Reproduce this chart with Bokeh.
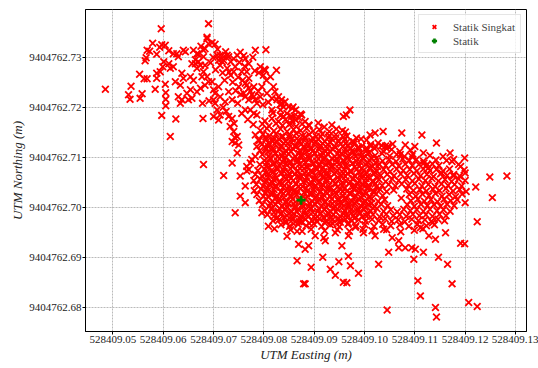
from bokeh.plotting import figure
from bokeh.models import Range1d, FixedTicker, PrintfTickFormatter
from bokeh.embed import file_html
from bokeh.resources import INLINE

FONT = "Liberation Serif"

x_ticks = [528409.05, 528409.06, 528409.07, 528409.08, 528409.09,
           528409.10, 528409.11, 528409.12, 528409.13]
y_ticks = [9404762.68, 9404762.69, 9404762.70, 9404762.71, 9404762.72, 9404762.73]
x_limits = (528409.04455, 528409.13219)
y_limits = (9404762.6753, 9404762.73952)

# "Statik" reference position
static_east = [528409.0874]
static_north = [9404762.7015]

# "Statik Singkat" readings (easting, northing)
singkat_upper = [
    (528409.0485, 9404762.7236), (528409.0596, 9404762.7357), (528409.0579, 9404762.7328), (528409.0597, 9404762.7325),
    (528409.0604, 9404762.7324), (528409.0593, 9404762.7320), (528409.0568, 9404762.7314), (528409.0573, 9404762.7312),
    (528409.0587, 9404762.7306), (528409.0566, 9404762.7299), (528409.0564, 9404762.7293), (528409.0601, 9404762.7291),
    (528409.0599, 9404762.7281), (528409.0594, 9404762.7271), (528409.0611, 9404762.7313), (528409.0620, 9404762.7307),
    (528409.0627, 9404762.7307), (528409.0640, 9404762.7314), (528409.0644, 9404762.7311), (528409.0630, 9404762.7301),
    (528409.0611, 9404762.7287), (528409.0614, 9404762.7278), (528409.0620, 9404762.7281), (528409.0553, 9404762.7266),
    (528409.0562, 9404762.7257), (528409.0568, 9404762.7257), (528409.0587, 9404762.7268), (528409.0587, 9404762.7258),
    (528409.0624, 9404762.7251), (528409.0634, 9404762.7244), (528409.0640, 9404762.7258), (528409.0637, 9404762.7268),
    (528409.0536, 9404762.7242), (528409.0531, 9404762.7225), (528409.0534, 9404762.7216), (528409.0558, 9404762.7227),
    (528409.0554, 9404762.7218), (528409.0584, 9404762.7236), (528409.0604, 9404762.7246), (528409.0605, 9404762.7229),
    (528409.0605, 9404762.7216), (528409.0605, 9404762.7203), (528409.0597, 9404762.7184), (528409.0625, 9404762.7177),
    (528409.0614, 9404762.7142), (528409.0630, 9404762.7221), (528409.0637, 9404762.7215), (528409.0634, 9404762.7208),
    (528409.0647, 9404762.7228), (528409.0657, 9404762.7218), (528409.0650, 9404762.7215), (528409.0660, 9404762.7314),
    (528409.0667, 9404762.7307), (528409.0670, 9404762.7291), (528409.0664, 9404762.7287), (528409.0674, 9404762.7284),
    (528409.0657, 9404762.7287), (528409.0670, 9404762.7306), (528409.0680, 9404762.7301), (528409.0664, 9404762.7295),
    (528409.0683, 9404762.7284), (528409.0667, 9404762.7278), (528409.0687, 9404762.7337), (528409.0690, 9404762.7327),
    (528409.0697, 9404762.7329), (528409.0703, 9404762.7326), (528409.0683, 9404762.7317), (528409.0679, 9404762.7315),
    (528409.0690, 9404762.7367), (528409.0687, 9404762.7340), (528409.0679, 9404762.7178), (528409.0678, 9404762.7208),
    (528409.0680, 9404762.7086), (528409.0654, 9404762.7261), (528409.0660, 9404762.7254), (528409.0654, 9404762.7235),
    (528409.0667, 9404762.7231), (528409.0674, 9404762.7238), (528409.0677, 9404762.7261), (528409.0680, 9404762.7271),
    (528409.0687, 9404762.7261), (528409.0690, 9404762.7251), (528409.0683, 9404762.7244), (528409.0697, 9404762.7251),
    (528409.0700, 9404762.7235), (528409.0710, 9404762.7241), (528409.0703, 9404762.7228), (528409.0713, 9404762.7221),
    (528409.0700, 9404762.7215), (528409.0703, 9404762.7208), (528409.0707, 9404762.7195), (528409.0700, 9404762.7182),
    (528409.0713, 9404762.7185), (528409.0710, 9404762.7175), (528409.0707, 9404762.7304), (528409.0713, 9404762.7304),
    (528409.0710, 9404762.7294), (528409.0717, 9404762.7291), (528409.0713, 9404762.7284), (528409.0720, 9404762.7301),
    (528409.0720, 9404762.7294), (528409.0727, 9404762.7304), (528409.0730, 9404762.7301), (528409.0734, 9404762.7291),
    (528409.0740, 9404762.7297), (528409.0747, 9404762.7304), (528409.0727, 9404762.7278), (528409.0731, 9404762.7270),
    (528409.0740, 9404762.7271), (528409.0743, 9404762.7281), (528409.0734, 9404762.7264), (528409.0756, 9404762.7271),
    (528409.0763, 9404762.7297), (528409.0770, 9404762.7287), (528409.0766, 9404762.7271), (528409.0770, 9404762.7258),
    (528409.0766, 9404762.7244), (528409.0750, 9404762.7241), (528409.0763, 9404762.7248), (528409.0770, 9404762.7238),
    (528409.0760, 9404762.7228), (528409.0773, 9404762.7232), (528409.0780, 9404762.7241), (528409.0763, 9404762.7221),
    (528409.0770, 9404762.7215), (528409.0776, 9404762.7225), (528409.0780, 9404762.7221), (528409.0783, 9404762.7215),
    (528409.0793, 9404762.7221), (528409.0796, 9404762.7241), (528409.0786, 9404762.7208), (528409.0763, 9404762.7195),
    (528409.0773, 9404762.7195), (528409.0780, 9404762.7188), (528409.0786, 9404762.7185), (528409.0723, 9404762.7211),
    (528409.0737, 9404762.7215), (528409.0730, 9404762.7231), (528409.0730, 9404762.7182), (528409.0737, 9404762.7178),
    (528409.0733, 9404762.7162), (528409.0741, 9404762.7168), (528409.0740, 9404762.7152), (528409.0742, 9404762.7140),
    (528409.0747, 9404762.7142), (528409.0743, 9404762.7129), (528409.0737, 9404762.7132), (528409.0750, 9404762.7125),
    (528409.0747, 9404762.7109), (528409.0737, 9404762.7089), (528409.0720, 9404762.7064), (528409.0753, 9404762.7063),
    (528409.0766, 9404762.7082), (528409.0770, 9404762.7076), (528409.0773, 9404762.7089), (528409.0776, 9404762.7096),
    (528409.0783, 9404762.7102), (528409.0786, 9404762.7122), (528409.0789, 9404762.7135), (528409.0783, 9404762.7145),
    (528409.0803, 9404762.7274), (528409.0793, 9404762.7281), (528409.0799, 9404762.7264), (528409.0801, 9404762.7276),
    (528409.0783, 9404762.7314), (528409.0804, 9404762.7315), (528409.0825, 9404762.7274), (528409.0806, 9404762.7228),
    (528409.0816, 9404762.7218), (528409.0826, 9404762.7215), (528409.0819, 9404762.7241), (528409.0822, 9404762.7231),
    (528409.0829, 9404762.7221), (528409.0835, 9404762.7215), (528409.0842, 9404762.7211), (528409.0836, 9404762.7208),
    (528409.0832, 9404762.7205), (528409.0839, 9404762.7201), (528409.0849, 9404762.7201), (528409.0858, 9404762.7201),
    (528409.0863, 9404762.7195), (528409.0816, 9404762.7195), (528409.0833, 9404762.7195), (528409.0839, 9404762.7182),
    (528409.0856, 9404762.7198), (528409.0863, 9404762.7175), (528409.0853, 9404762.7168), (528409.0875, 9404762.7185),
    (528409.0855, 9404762.7182), (528409.0675, 9404762.7322), (528409.0708, 9404762.7316), (528409.0724, 9404762.7311),
    (528409.0753, 9404762.7310), (528409.0760, 9404762.7303), (528409.0778, 9404762.7300), (528409.0751, 9404762.7290),
    (528409.0762, 9404762.7282), (528409.0782, 9404762.7273), (528409.0790, 9404762.7269), (528409.0749, 9404762.7260),
    (528409.0758, 9404762.7254), (528409.0718, 9404762.7269), (528409.0704, 9404762.7275), (528409.0694, 9404762.7289),
    (528409.0699, 9404762.7300), (528409.0722, 9404762.7254), (528409.0738, 9404762.7250), (528409.0744, 9404762.7233),
    (528409.0754, 9404762.7226), (528409.0789, 9404762.7232), (528409.0805, 9404762.7254), (528409.0813, 9404762.7261),
    (528409.0798, 9404762.7205), (528409.0809, 9404762.7210), (528409.0691, 9404762.7213), (528409.0719, 9404762.7200),
    (528409.0725, 9404762.7192), (528409.0748, 9404762.7208), (528409.0756, 9404762.7188), (528409.0768, 9404762.7176),
    (528409.0779, 9404762.7166),
]

singkat_core = [
    (528409.0818, 9404762.7189), (528409.0833, 9404762.7184), (528409.0846, 9404762.7188), (528409.0860, 9404762.7183),
    (528409.0873, 9404762.7187),
    (528409.0802, 9404762.7173), (528409.0816, 9404762.7178), (528409.0829, 9404762.7172), (528409.0843, 9404762.7176),
    (528409.0856, 9404762.7174), (528409.0870, 9404762.7179), (528409.0882, 9404762.7172),
    (528409.0797, 9404762.7167), (528409.0810, 9404762.7163), (528409.0824, 9404762.7168), (528409.0837, 9404762.7164),
    (528409.0850, 9404762.7166), (528409.0864, 9404762.7162), (528409.0876, 9404762.7167), (528409.0890, 9404762.7164),
    (528409.0908, 9404762.7169), (528409.0920, 9404762.7161),
    (528409.0793, 9404762.7154), (528409.0806, 9404762.7158), (528409.0820, 9404762.7153), (528409.0833, 9404762.7157),
    (528409.0846, 9404762.7152), (528409.0859, 9404762.7156), (528409.0873, 9404762.7154), (528409.0885, 9404762.7158),
    (528409.0898, 9404762.7153), (528409.0910, 9404762.7156), (528409.0930, 9404762.7152), (528409.0944, 9404762.7157),
    (528409.0798, 9404762.7146), (528409.0811, 9404762.7143), (528409.0824, 9404762.7147), (528409.0838, 9404762.7142),
    (528409.0851, 9404762.7145), (528409.0864, 9404762.7148), (528409.0877, 9404762.7143), (528409.0890, 9404762.7146),
    (528409.0904, 9404762.7142), (528409.0916, 9404762.7147), (528409.0930, 9404762.7144), (528409.0943, 9404762.7146),
    (528409.0965, 9404762.7143),
    (528409.0791, 9404762.7134), (528409.0804, 9404762.7137), (528409.0817, 9404762.7133), (528409.0830, 9404762.7136),
    (528409.0843, 9404762.7132), (528409.0856, 9404762.7137), (528409.0869, 9404762.7134), (528409.0882, 9404762.7138),
    (528409.0895, 9404762.7133), (528409.0908, 9404762.7136), (528409.0921, 9404762.7132), (528409.0935, 9404762.7137),
    (528409.0948, 9404762.7134), (528409.0961, 9404762.7136), (528409.0976, 9404762.7132), (528409.0993, 9404762.7137),
    (528409.0796, 9404762.7126), (528409.0809, 9404762.7122), (528409.0822, 9404762.7127), (528409.0835, 9404762.7124),
    (528409.0848, 9404762.7128), (528409.0861, 9404762.7123), (528409.0874, 9404762.7126), (528409.0887, 9404762.7122),
    (528409.0900, 9404762.7127), (528409.0913, 9404762.7124), (528409.0927, 9404762.7126), (528409.0940, 9404762.7123),
    (528409.0953, 9404762.7127), (528409.0966, 9404762.7124), (528409.0979, 9404762.7127), (528409.0995, 9404762.7123),
    (528409.1012, 9404762.7126), (528409.1034, 9404762.7124), (528409.1056, 9404762.7127), (528409.1081, 9404762.7125),
    (528409.0792, 9404762.7114), (528409.0805, 9404762.7117), (528409.0818, 9404762.7113), (528409.0831, 9404762.7116),
    (528409.0845, 9404762.7112), (528409.0858, 9404762.7117), (528409.0871, 9404762.7114), (528409.0884, 9404762.7118),
    (528409.0897, 9404762.7113), (528409.0910, 9404762.7116), (528409.0923, 9404762.7112), (528409.0936, 9404762.7117),
    (528409.0949, 9404762.7114), (528409.0962, 9404762.7116), (528409.0975, 9404762.7113), (528409.0989, 9404762.7117),
    (528409.1004, 9404762.7114), (528409.1020, 9404762.7118), (528409.1037, 9404762.7113), (528409.1054, 9404762.7116),
    (528409.1070, 9404762.7112), (528409.1091, 9404762.7115),
    (528409.0797, 9404762.7106), (528409.0810, 9404762.7103), (528409.0823, 9404762.7108), (528409.0836, 9404762.7104),
    (528409.0849, 9404762.7107), (528409.0862, 9404762.7102), (528409.0875, 9404762.7106), (528409.0888, 9404762.7103),
    (528409.0901, 9404762.7108), (528409.0914, 9404762.7104), (528409.0928, 9404762.7106), (528409.0941, 9404762.7102),
    (528409.0954, 9404762.7107), (528409.0967, 9404762.7104), (528409.0980, 9404762.7106), (528409.0993, 9404762.7103),
    (528409.1007, 9404762.7107), (528409.1021, 9404762.7104), (528409.1035, 9404762.7108), (528409.1050, 9404762.7103),
    (528409.1064, 9404762.7106), (528409.1079, 9404762.7102), (528409.1096, 9404762.7107), (528409.1130, 9404762.7104),
    (528409.1156, 9404762.7102),
    (528409.0801, 9404762.7094), (528409.0814, 9404762.7097), (528409.0827, 9404762.7093), (528409.0840, 9404762.7096),
    (528409.0853, 9404762.7092), (528409.0866, 9404762.7097), (528409.0879, 9404762.7094), (528409.0892, 9404762.7098),
    (528409.0905, 9404762.7093), (528409.0918, 9404762.7096), (528409.0931, 9404762.7092), (528409.0944, 9404762.7097),
    (528409.0957, 9404762.7094), (528409.0970, 9404762.7096), (528409.0984, 9404762.7093), (528409.0997, 9404762.7097),
    (528409.1010, 9404762.7094), (528409.1023, 9404762.7098), (528409.1036, 9404762.7093), (528409.1049, 9404762.7096),
    (528409.1063, 9404762.7092), (528409.1076, 9404762.7097), (528409.1089, 9404762.7094), (528409.1103, 9404762.7096),
    (528409.1117, 9404762.7093), (528409.1142, 9404762.7095), (528409.1163, 9404762.7094),
    (528409.0792, 9404762.7086), (528409.0805, 9404762.7083), (528409.0818, 9404762.7087), (528409.0831, 9404762.7084),
    (528409.0844, 9404762.7088), (528409.0858, 9404762.7083), (528409.0870, 9404762.7086), (528409.0884, 9404762.7082),
    (528409.0897, 9404762.7087), (528409.0910, 9404762.7084), (528409.0923, 9404762.7086), (528409.0936, 9404762.7083),
    (528409.0950, 9404762.7087), (528409.0963, 9404762.7084), (528409.0976, 9404762.7088), (528409.0989, 9404762.7083),
    (528409.1002, 9404762.7086), (528409.1016, 9404762.7082), (528409.1029, 9404762.7087), (528409.1042, 9404762.7084),
    (528409.1055, 9404762.7086), (528409.1068, 9404762.7083), (528409.1081, 9404762.7087), (528409.1095, 9404762.7084),
    (528409.1108, 9404762.7086), (528409.1121, 9404762.7083), (528409.1135, 9404762.7087), (528409.1148, 9404762.7084),
    (528409.1187, 9404762.7086),
    (528409.0788, 9404762.7074), (528409.0801, 9404762.7077), (528409.0814, 9404762.7073), (528409.0827, 9404762.7076),
    (528409.0840, 9404762.7072), (528409.0853, 9404762.7077), (528409.0867, 9404762.7074), (528409.0880, 9404762.7078),
    (528409.0893, 9404762.7073), (528409.0906, 9404762.7076), (528409.0919, 9404762.7072), (528409.0932, 9404762.7077),
    (528409.0946, 9404762.7074), (528409.0959, 9404762.7076), (528409.0972, 9404762.7073), (528409.0985, 9404762.7077),
    (528409.0998, 9404762.7074), (528409.1011, 9404762.7078), (528409.1025, 9404762.7073), (528409.1038, 9404762.7076),
    (528409.1051, 9404762.7072), (528409.1064, 9404762.7077), (528409.1077, 9404762.7074), (528409.1090, 9404762.7076),
    (528409.1104, 9404762.7073), (528409.1117, 9404762.7077), (528409.1130, 9404762.7074), (528409.1143, 9404762.7076),
    (528409.1156, 9404762.7073), (528409.1169, 9404762.7077), (528409.1198, 9404762.7075),
    (528409.0783, 9404762.7066), (528409.0796, 9404762.7063), (528409.0809, 9404762.7067), (528409.0822, 9404762.7064),
    (528409.0835, 9404762.7068), (528409.0849, 9404762.7063), (528409.0861, 9404762.7066), (528409.0875, 9404762.7062),
    (528409.0888, 9404762.7067), (528409.0901, 9404762.7064), (528409.0914, 9404762.7066), (528409.0927, 9404762.7063),
    (528409.0940, 9404762.7067), (528409.0954, 9404762.7064), (528409.0966, 9404762.7068), (528409.0980, 9404762.7063),
    (528409.0993, 9404762.7066), (528409.1006, 9404762.7062), (528409.1019, 9404762.7067), (528409.1032, 9404762.7064),
    (528409.1045, 9404762.7066), (528409.1058, 9404762.7063), (528409.1072, 9404762.7067), (528409.1085, 9404762.7064),
    (528409.1098, 9404762.7068), (528409.1111, 9404762.7063), (528409.1124, 9404762.7066), (528409.1137, 9404762.7062),
    (528409.1151, 9404762.7067), (528409.1164, 9404762.7064), (528409.1177, 9404762.7066), (528409.1189, 9404762.7063),
    (528409.0780, 9404762.7054), (528409.0793, 9404762.7057), (528409.0806, 9404762.7053), (528409.0819, 9404762.7056),
    (528409.0832, 9404762.7052), (528409.0845, 9404762.7057), (528409.0858, 9404762.7054), (528409.0871, 9404762.7058),
    (528409.0884, 9404762.7053), (528409.0898, 9404762.7056), (528409.0911, 9404762.7052), (528409.0924, 9404762.7057),
    (528409.0937, 9404762.7054), (528409.0950, 9404762.7056), (528409.0963, 9404762.7053), (528409.0976, 9404762.7057),
    (528409.0990, 9404762.7054), (528409.1003, 9404762.7058), (528409.1016, 9404762.7053), (528409.1029, 9404762.7056),
    (528409.1042, 9404762.7052), (528409.1055, 9404762.7057), (528409.1068, 9404762.7054), (528409.1082, 9404762.7056),
    (528409.1095, 9404762.7053), (528409.1108, 9404762.7057), (528409.1121, 9404762.7054), (528409.1134, 9404762.7058),
    (528409.1147, 9404762.7053), (528409.1160, 9404762.7056), (528409.1173, 9404762.7052), (528409.1187, 9404762.7057),
    (528409.1200, 9404762.7054),
    (528409.0785, 9404762.7046), (528409.0798, 9404762.7043), (528409.0811, 9404762.7047), (528409.0824, 9404762.7044),
    (528409.0837, 9404762.7048), (528409.0850, 9404762.7043), (528409.0864, 9404762.7046), (528409.0877, 9404762.7042),
    (528409.0890, 9404762.7047), (528409.0903, 9404762.7044), (528409.0916, 9404762.7046), (528409.0929, 9404762.7043),
    (528409.0943, 9404762.7047), (528409.0956, 9404762.7044), (528409.0969, 9404762.7048), (528409.0982, 9404762.7043),
    (528409.0995, 9404762.7046), (528409.1008, 9404762.7042), (528409.1021, 9404762.7047), (528409.1035, 9404762.7044),
    (528409.1048, 9404762.7046), (528409.1061, 9404762.7043), (528409.1074, 9404762.7047), (528409.1087, 9404762.7044),
    (528409.1100, 9404762.7048), (528409.1114, 9404762.7043), (528409.1127, 9404762.7046), (528409.1140, 9404762.7042),
    (528409.1153, 9404762.7047), (528409.1166, 9404762.7044), (528409.1179, 9404762.7046), (528409.1193, 9404762.7043),
    (528409.0781, 9404762.7034), (528409.0794, 9404762.7037), (528409.0807, 9404762.7033), (528409.0820, 9404762.7036),
    (528409.0834, 9404762.7032), (528409.0847, 9404762.7037), (528409.0860, 9404762.7034), (528409.0873, 9404762.7038),
    (528409.0886, 9404762.7033), (528409.0899, 9404762.7036), (528409.0913, 9404762.7032), (528409.0926, 9404762.7037),
    (528409.0939, 9404762.7034), (528409.0952, 9404762.7036), (528409.0965, 9404762.7033), (528409.0978, 9404762.7037),
    (528409.0992, 9404762.7034), (528409.1005, 9404762.7038), (528409.1018, 9404762.7033), (528409.1031, 9404762.7036),
    (528409.1044, 9404762.7032), (528409.1084, 9404762.7037), (528409.1097, 9404762.7034), (528409.1110, 9404762.7036),
    (528409.1123, 9404762.7033), (528409.1136, 9404762.7037), (528409.1149, 9404762.7034), (528409.1162, 9404762.7038),
    (528409.1176, 9404762.7033), (528409.1189, 9404762.7036), (528409.1202, 9404762.7032),
    (528409.0786, 9404762.7026), (528409.0799, 9404762.7023), (528409.0813, 9404762.7027), (528409.0826, 9404762.7024),
    (528409.0839, 9404762.7028), (528409.0852, 9404762.7023), (528409.0865, 9404762.7026), (528409.0878, 9404762.7022),
    (528409.0891, 9404762.7027), (528409.0905, 9404762.7024), (528409.0918, 9404762.7026), (528409.0931, 9404762.7023),
    (528409.0944, 9404762.7027), (528409.0957, 9404762.7024), (528409.0970, 9404762.7028), (528409.0983, 9404762.7023),
    (528409.0997, 9404762.7026), (528409.1010, 9404762.7022), (528409.1023, 9404762.7027), (528409.1036, 9404762.7024),
    (528409.1089, 9404762.7026), (528409.1102, 9404762.7023), (528409.1115, 9404762.7027), (528409.1128, 9404762.7024),
    (528409.1141, 9404762.7028), (528409.1154, 9404762.7023), (528409.1168, 9404762.7026), (528409.1181, 9404762.7022),
    (528409.1194, 9404762.7027),
    (528409.0791, 9404762.7014), (528409.0804, 9404762.7017), (528409.0817, 9404762.7013), (528409.0830, 9404762.7016),
    (528409.0843, 9404762.7012), (528409.0857, 9404762.7017), (528409.0870, 9404762.7014), (528409.0883, 9404762.7018),
    (528409.0896, 9404762.7013), (528409.0909, 9404762.7016), (528409.0922, 9404762.7012), (528409.0935, 9404762.7017),
    (528409.0948, 9404762.7014), (528409.0962, 9404762.7016), (528409.0975, 9404762.7013), (528409.0988, 9404762.7017),
    (528409.1001, 9404762.7014), (528409.1014, 9404762.7018), (528409.1027, 9404762.7013), (528409.1040, 9404762.7016),
    (528409.1092, 9404762.7014), (528409.1106, 9404762.7017), (528409.1119, 9404762.7013), (528409.1132, 9404762.7016),
    (528409.1145, 9404762.7012), (528409.1158, 9404762.7017), (528409.1171, 9404762.7014), (528409.1184, 9404762.7016),
    (528409.0797, 9404762.7006), (528409.0810, 9404762.7003), (528409.0823, 9404762.7007), (528409.0836, 9404762.7004),
    (528409.0849, 9404762.7008), (528409.0862, 9404762.7003), (528409.0876, 9404762.7006), (528409.0889, 9404762.7002),
    (528409.0902, 9404762.7007), (528409.0915, 9404762.7004), (528409.0928, 9404762.7006), (528409.0941, 9404762.7003),
    (528409.0954, 9404762.7007), (528409.0967, 9404762.7004), (528409.0981, 9404762.7008), (528409.0994, 9404762.7003),
    (528409.1007, 9404762.7006), (528409.1020, 9404762.7002), (528409.1033, 9404762.7007), (528409.1046, 9404762.7004),
    (528409.1085, 9404762.7006), (528409.1099, 9404762.7003), (528409.1112, 9404762.7007), (528409.1125, 9404762.7004),
    (528409.1138, 9404762.7006), (528409.1151, 9404762.7003), (528409.1164, 9404762.7007), (528409.1178, 9404762.7004),
    (528409.0802, 9404762.6994), (528409.0815, 9404762.6997), (528409.0828, 9404762.6993), (528409.0841, 9404762.6996),
    (528409.0854, 9404762.6992), (528409.0868, 9404762.6997), (528409.0881, 9404762.6994), (528409.0894, 9404762.6998),
    (528409.0907, 9404762.6993), (528409.0920, 9404762.6996), (528409.0933, 9404762.6992), (528409.0946, 9404762.6997),
    (528409.0960, 9404762.6994), (528409.0973, 9404762.6996), (528409.0986, 9404762.6993), (528409.0999, 9404762.6997),
    (528409.1012, 9404762.6994), (528409.1025, 9404762.6998), (528409.1038, 9404762.6993), (528409.1052, 9404762.6996),
    (528409.1065, 9404762.6992), (528409.1078, 9404762.6997), (528409.1091, 9404762.6994), (528409.1104, 9404762.6996),
    (528409.1117, 9404762.6993), (528409.1130, 9404762.6997), (528409.1144, 9404762.6994), (528409.1157, 9404762.6996),
    (528409.1170, 9404762.6993),
    (528409.0807, 9404762.6986), (528409.0820, 9404762.6983), (528409.0833, 9404762.6987), (528409.0846, 9404762.6984),
    (528409.0860, 9404762.6988), (528409.0873, 9404762.6983), (528409.0886, 9404762.6986), (528409.0899, 9404762.6982),
    (528409.0912, 9404762.6987), (528409.0925, 9404762.6984), (528409.0938, 9404762.6986), (528409.0951, 9404762.6983),
    (528409.0965, 9404762.6987), (528409.0978, 9404762.6984), (528409.0991, 9404762.6988), (528409.1004, 9404762.6983),
    (528409.1017, 9404762.6986), (528409.1030, 9404762.6982), (528409.1043, 9404762.6987), (528409.1057, 9404762.6984),
    (528409.1070, 9404762.6986), (528409.1083, 9404762.6983), (528409.1096, 9404762.6987), (528409.1109, 9404762.6984),
    (528409.1122, 9404762.6986), (528409.1135, 9404762.6983), (528409.1149, 9404762.6987), (528409.1162, 9404762.6984),
    (528409.0818, 9404762.6974), (528409.0831, 9404762.6977), (528409.0844, 9404762.6973), (528409.0857, 9404762.6976),
    (528409.0870, 9404762.6972), (528409.0883, 9404762.6977), (528409.0896, 9404762.6974), (528409.0910, 9404762.6978),
    (528409.0923, 9404762.6973), (528409.0936, 9404762.6976), (528409.0949, 9404762.6972), (528409.0962, 9404762.6977),
    (528409.0975, 9404762.6974), (528409.0988, 9404762.6976), (528409.1002, 9404762.6973), (528409.1015, 9404762.6977),
    (528409.1028, 9404762.6974), (528409.1041, 9404762.6978), (528409.1054, 9404762.6973), (528409.1067, 9404762.6976),
    (528409.1080, 9404762.6972), (528409.1094, 9404762.6977), (528409.1107, 9404762.6974), (528409.1120, 9404762.6976),
    (528409.1133, 9404762.6973), (528409.1146, 9404762.6977), (528409.1159, 9404762.6974),
    (528409.0834, 9404762.6966), (528409.0851, 9404762.6963), (528409.0868, 9404762.6967), (528409.0884, 9404762.6964),
    (528409.0899, 9404762.6968), (528409.0915, 9404762.6963), (528409.0932, 9404762.6966), (528409.0950, 9404762.6962),
    (528409.0967, 9404762.6967), (528409.0983, 9404762.6964), (528409.1001, 9404762.6966), (528409.1019, 9404762.6963),
    (528409.1036, 9404762.6967), (528409.1052, 9404762.6964), (528409.1070, 9404762.6966), (528409.1088, 9404762.6963),
    (528409.1105, 9404762.6967), (528409.1123, 9404762.6964), (528409.1139, 9404762.6966),
    (528409.0853, 9404762.6956), (528409.0876, 9404762.6953), (528409.0894, 9404762.6957), (528409.0921, 9404762.6954),
    (528409.0946, 9404762.6956), (528409.0970, 9404762.6953), (528409.0997, 9404762.6957), (528409.1015, 9404762.6954),
    (528409.1044, 9404762.6956), (528409.1072, 9404762.6952), (528409.1099, 9404762.6955), (528409.1116, 9404762.6958),
]

# extra readings in the most crowded part of the cloud
singkat_core_fill = [
    (528409.0804, 9404762.7141), (528409.0820, 9404762.7139), (528409.0835, 9404762.7142), (528409.0851, 9404762.7140),
    (528409.0866, 9404762.7138), (528409.0882, 9404762.7141), (528409.0897, 9404762.7139), (528409.0913, 9404762.7142),
    (528409.0928, 9404762.7140), (528409.0943, 9404762.7139), (528409.0958, 9404762.7141),
    (528409.0809, 9404762.7129), (528409.0824, 9404762.7131), (528409.0840, 9404762.7128), (528409.0855, 9404762.7130),
    (528409.0871, 9404762.7132), (528409.0886, 9404762.7129), (528409.0902, 9404762.7131), (528409.0917, 9404762.7128),
    (528409.0932, 9404762.7130), (528409.0948, 9404762.7132), (528409.0963, 9404762.7129), (528409.0979, 9404762.7131),
    (528409.0803, 9404762.7120), (528409.0818, 9404762.7118), (528409.0834, 9404762.7121), (528409.0849, 9404762.7119),
    (528409.0865, 9404762.7122), (528409.0880, 9404762.7120), (528409.0895, 9404762.7118), (528409.0911, 9404762.7121),
    (528409.0926, 9404762.7119), (528409.0942, 9404762.7120), (528409.0957, 9404762.7122), (528409.0973, 9404762.7118),
    (528409.0988, 9404762.7121), (528409.1004, 9404762.7119),
    (528409.0808, 9404762.7111), (528409.0823, 9404762.7109), (528409.0839, 9404762.7110), (528409.0854, 9404762.7112),
    (528409.0870, 9404762.7108), (528409.0885, 9404762.7111), (528409.0901, 9404762.7109), (528409.0916, 9404762.7110),
    (528409.0931, 9404762.7112), (528409.0947, 9404762.7108), (528409.0962, 9404762.7110), (528409.0978, 9404762.7111),
    (528409.0993, 9404762.7109), (528409.1009, 9404762.7110),
    (528409.0812, 9404762.7099), (528409.0827, 9404762.7101), (528409.0843, 9404762.7100), (528409.0858, 9404762.7098),
    (528409.0874, 9404762.7102), (528409.0889, 9404762.7099), (528409.0905, 9404762.7101), (528409.0920, 9404762.7100),
    (528409.0935, 9404762.7098), (528409.0951, 9404762.7101), (528409.0966, 9404762.7099), (528409.0982, 9404762.7102),
    (528409.0997, 9404762.7100), (528409.1013, 9404762.7099),
    (528409.0806, 9404762.7090), (528409.0821, 9404762.7088), (528409.0837, 9404762.7091), (528409.0852, 9404762.7089),
    (528409.0868, 9404762.7092), (528409.0883, 9404762.7090), (528409.0899, 9404762.7088), (528409.0914, 9404762.7091),
    (528409.0929, 9404762.7089), (528409.0945, 9404762.7090), (528409.0960, 9404762.7092), (528409.0976, 9404762.7088),
    (528409.0991, 9404762.7091), (528409.1007, 9404762.7089), (528409.1022, 9404762.7090),
    (528409.0810, 9404762.7081), (528409.0825, 9404762.7079), (528409.0841, 9404762.7080), (528409.0856, 9404762.7082),
    (528409.0872, 9404762.7078), (528409.0887, 9404762.7081), (528409.0903, 9404762.7079), (528409.0918, 9404762.7080),
    (528409.0933, 9404762.7082), (528409.0949, 9404762.7078), (528409.0964, 9404762.7080), (528409.0980, 9404762.7081),
    (528409.0995, 9404762.7079), (528409.1011, 9404762.7080), (528409.1026, 9404762.7082),
    (528409.0804, 9404762.7069), (528409.0819, 9404762.7071), (528409.0835, 9404762.7070), (528409.0850, 9404762.7068),
    (528409.0866, 9404762.7072), (528409.0881, 9404762.7069), (528409.0897, 9404762.7071), (528409.0912, 9404762.7070),
    (528409.0927, 9404762.7068), (528409.0943, 9404762.7071), (528409.0958, 9404762.7069), (528409.0974, 9404762.7072),
    (528409.0989, 9404762.7070), (528409.1005, 9404762.7069), (528409.1020, 9404762.7071),
    (528409.0808, 9404762.7060), (528409.0823, 9404762.7058), (528409.0839, 9404762.7061), (528409.0854, 9404762.7059),
    (528409.0870, 9404762.7062), (528409.0885, 9404762.7060), (528409.0901, 9404762.7058), (528409.0916, 9404762.7061),
    (528409.0931, 9404762.7059), (528409.0947, 9404762.7060), (528409.0962, 9404762.7062), (528409.0978, 9404762.7058),
    (528409.0993, 9404762.7061), (528409.1009, 9404762.7059), (528409.1024, 9404762.7060),
    (528409.0802, 9404762.7051), (528409.0817, 9404762.7049), (528409.0833, 9404762.7050), (528409.0848, 9404762.7052),
    (528409.0864, 9404762.7048), (528409.0879, 9404762.7051), (528409.0895, 9404762.7049), (528409.0910, 9404762.7050),
    (528409.0925, 9404762.7052), (528409.0941, 9404762.7048), (528409.0956, 9404762.7050), (528409.0972, 9404762.7051),
    (528409.0987, 9404762.7049), (528409.1003, 9404762.7050), (528409.1018, 9404762.7052),
    (528409.0807, 9404762.7039), (528409.0822, 9404762.7041), (528409.0838, 9404762.7040), (528409.0853, 9404762.7038),
    (528409.0869, 9404762.7042), (528409.0884, 9404762.7039), (528409.0900, 9404762.7041), (528409.0915, 9404762.7040),
    (528409.0930, 9404762.7038), (528409.0946, 9404762.7041), (528409.0961, 9404762.7039), (528409.0977, 9404762.7042),
    (528409.0992, 9404762.7040), (528409.1008, 9404762.7039), (528409.1023, 9404762.7041),
    (528409.0803, 9404762.7030), (528409.0818, 9404762.7028), (528409.0834, 9404762.7031), (528409.0849, 9404762.7029),
    (528409.0865, 9404762.7032), (528409.0880, 9404762.7030), (528409.0896, 9404762.7028), (528409.0911, 9404762.7031),
    (528409.0926, 9404762.7029), (528409.0942, 9404762.7030), (528409.0957, 9404762.7032), (528409.0973, 9404762.7028),
    (528409.0988, 9404762.7031), (528409.1004, 9404762.7029), (528409.1019, 9404762.7030),
    (528409.0809, 9404762.7021), (528409.0824, 9404762.7019), (528409.0840, 9404762.7020), (528409.0855, 9404762.7022),
    (528409.0871, 9404762.7018), (528409.0886, 9404762.7021), (528409.0902, 9404762.7019), (528409.0917, 9404762.7020),
    (528409.0932, 9404762.7022), (528409.0948, 9404762.7018), (528409.0963, 9404762.7020), (528409.0979, 9404762.7021),
    (528409.0994, 9404762.7019), (528409.1010, 9404762.7020),
    (528409.0813, 9404762.7009), (528409.0828, 9404762.7011), (528409.0844, 9404762.7010), (528409.0859, 9404762.7008),
    (528409.0875, 9404762.7012), (528409.0890, 9404762.7009), (528409.0906, 9404762.7011), (528409.0921, 9404762.7010),
    (528409.0936, 9404762.7008), (528409.0952, 9404762.7011), (528409.0967, 9404762.7009), (528409.0983, 9404762.7012),
    (528409.0998, 9404762.7010), (528409.1014, 9404762.7009),
    (528409.0816, 9404762.7000), (528409.0831, 9404762.6998), (528409.0847, 9404762.7001), (528409.0862, 9404762.6999),
    (528409.0878, 9404762.7002), (528409.0893, 9404762.7000), (528409.0909, 9404762.6998), (528409.0924, 9404762.7001),
    (528409.0939, 9404762.6999), (528409.0955, 9404762.7000), (528409.0970, 9404762.7002), (528409.0986, 9404762.6998),
    (528409.1001, 9404762.7001), (528409.1017, 9404762.6999),
    (528409.0820, 9404762.6991), (528409.0835, 9404762.6989), (528409.0851, 9404762.6990), (528409.0866, 9404762.6992),
    (528409.0882, 9404762.6988), (528409.0897, 9404762.6991), (528409.0913, 9404762.6989), (528409.0928, 9404762.6990),
    (528409.0943, 9404762.6992), (528409.0959, 9404762.6988), (528409.0974, 9404762.6990), (528409.0990, 9404762.6991),
    (528409.1005, 9404762.6989),
    (528409.0826, 9404762.6979), (528409.0841, 9404762.6981), (528409.0857, 9404762.6980), (528409.0872, 9404762.6978),
    (528409.0888, 9404762.6982), (528409.0903, 9404762.6979), (528409.0919, 9404762.6981), (528409.0934, 9404762.6980),
    (528409.0949, 9404762.6978), (528409.0965, 9404762.6981), (528409.0980, 9404762.6979), (528409.0996, 9404762.6982),
    (528409.0844, 9404762.6970), (528409.0859, 9404762.6968), (528409.0875, 9404762.6971), (528409.0890, 9404762.6969),
    (528409.0906, 9404762.6972), (528409.0921, 9404762.6970), (528409.0937, 9404762.6968), (528409.0952, 9404762.6971),
    (528409.0968, 9404762.6969),
]

singkat_outer = [
    (528409.0964, 9404762.7185), (528409.0971, 9404762.7195), (528409.0958, 9404762.7182), (528409.0935, 9404762.7165),
    (528409.0889, 9404762.7165), (528409.0956, 9404762.7154), (528409.0962, 9404762.7151), (528409.0984, 9404762.7139),
    (528409.1011, 9404762.7145), (528409.1021, 9404762.7149), (528409.1037, 9404762.7152), (528409.1074, 9404762.7149),
    (528409.1114, 9404762.7145), (528409.1143, 9404762.7129), (528409.1100, 9404762.7122), (528409.1117, 9404762.7109),
    (528409.1170, 9404762.7109), (528409.1177, 9404762.7096), (528409.1199, 9404762.7099), (528409.1118, 9404762.7089),
    (528409.1125, 9404762.7086), (528409.1174, 9404762.7092), (528409.1191, 9404762.7082), (528409.1200, 9404762.7069),
    (528409.1177, 9404762.7063), (528409.1153, 9404762.7069), (528409.1127, 9404762.7079), (528409.1094, 9404762.7102),
    (528409.1047, 9404762.7122), (528409.1027, 9404762.7129), (528409.1004, 9404762.7135), (528409.1012, 9404762.7123),
    (528409.1022, 9404762.7122), (528409.1042, 9404762.7123), (528409.1044, 9404762.7118), (528409.0988, 9404762.7119),
    (528409.1071, 9404762.7106), (528409.1249, 9404762.7061), (528409.1283, 9404762.7063), (528409.1254, 9404762.7020),
    (528409.1221, 9404762.7041), (528409.1200, 9404762.7010), (528409.1224, 9404762.6972), (528409.1191, 9404762.6929),
    (528409.1199, 9404762.6928), (528409.1161, 9404762.6950), (528409.1147, 9404762.6901), (528409.1165, 9404762.6887),
    (528409.1106, 9404762.6854), (528409.1174, 9404762.6848), (528409.1111, 9404762.6824), (528409.1207, 9404762.6811),
    (528409.1224, 9404762.6803), (528409.1141, 9404762.6801), (528409.1143, 9404762.6782), (528409.1117, 9404762.6911),
    (528409.1111, 9404762.6960), (528409.1135, 9404762.6970), (528409.1141, 9404762.6937), (528409.1101, 9404762.6917),
    (528409.1128, 9404762.6944), (528409.1045, 9404762.6796), (528409.1028, 9404762.6887), (528409.0968, 9404762.6903),
    (528409.0972, 9404762.6884), (528409.0988, 9404762.6869), (528409.0949, 9404762.6892), (528409.0932, 9404762.6877),
    (528409.0942, 9404762.6865), (528409.0958, 9404762.6851), (528409.0965, 9404762.6850), (528409.0894, 9404762.6881),
    (528409.0917, 9404762.6901), (528409.0882, 9404762.6848), (528409.1048, 9404762.6911), (528409.1068, 9404762.6920),
    (528409.1098, 9404762.6897), (528409.0889, 9404762.6924), (528409.0919, 9404762.6940), (528409.0955, 9404762.6924),
    (528409.0902, 9404762.6944), (528409.0922, 9404762.6934), (528409.0942, 9404762.6950), (528409.0968, 9404762.6944),
    (528409.0982, 9404762.6961), (528409.0998, 9404762.6950), (528409.1021, 9404762.6944), (528409.1038, 9404762.6957),
    (528409.1055, 9404762.6940), (528409.1068, 9404762.6934), (528409.1081, 9404762.6920), (528409.1094, 9404762.6920),
    (528409.0763, 9404762.7043), (528409.0753, 9404762.7023), (528409.0763, 9404762.7010), (528409.0743, 9404762.6990),
    (528409.0796, 9404762.6990), (528409.0809, 9404762.6963), (528409.0821, 9404762.6958), (528409.0846, 9404762.6943),
    (528409.0866, 9404762.6953), (528409.0866, 9404762.6894), (528409.0879, 9404762.6848), (528409.0869, 9404762.6927),
    (528409.0882, 9404762.6917), (528409.0766, 9404762.7073),
    (528409.1058, 9404762.7035), (528409.1073, 9404762.7019),
]

singkat_points = singkat_upper + singkat_core + singkat_core_fill + singkat_outer
singkat_east = [pt[0] for pt in singkat_points]
singkat_north = [pt[1] for pt in singkat_points]

p = figure(width=538, height=364, output_backend="svg", toolbar_location=None,
           x_range=Range1d(*x_limits), y_range=Range1d(*y_limits),
           min_border_left=85, min_border_right=12, min_border_top=9, min_border_bottom=32,
           background_fill_color="white", border_fill_color="white")

p.scatter(singkat_east, singkat_north, marker="x", size=9.5, line_color="red",
          line_width=1.8, legend_label="Statik Singkat")
p.scatter(static_east, static_north, marker="cross", size=9, line_color="green",
          line_width=2.6, legend_label="Statik")

xt = FixedTicker(ticks=x_ticks)
yt = FixedTicker(ticks=y_ticks)
p.xaxis.ticker = xt
p.yaxis.ticker = yt
p.xgrid.ticker = xt
p.ygrid.ticker = yt
p.xaxis.formatter = PrintfTickFormatter(format="%.2f")
p.yaxis.formatter = PrintfTickFormatter(format="%.2f")
p.xaxis.axis_label = "UTM Easting (m)"
p.yaxis.axis_label = "UTM Northing (m)"

for ax in p.axis:
    ax.major_label_text_font = FONT
    ax.major_label_text_font_size = "11px"
    ax.major_label_text_color = "#222222"
    ax.axis_label_text_font = FONT
    ax.axis_label_text_font_size = "13px"
    ax.axis_label_text_font_style = "italic"
    ax.axis_label_text_color = "#222222"
    ax.axis_line_color = "black"
    ax.major_tick_line_color = "black"
    ax.major_tick_in = 0
    ax.major_tick_out = 3
    ax.minor_tick_line_color = None
    ax.major_label_standoff = 1
    ax.axis_label_standoff = 1

p.grid.grid_line_color = "#a8a8a8"
p.grid.grid_line_dash = "2 1"
p.grid.grid_line_width = 0.8

p.outline_line_color = "black"
p.outline_line_width = 1
p.outline_line_alpha = 1

lg = p.legend[0]
lg.location = "top_right"
lg.margin = 5
lg.padding = 5
lg.spacing = 1
lg.glyph_width = 20
lg.glyph_height = 13
lg.label_height = 13
lg.label_standoff = 9
lg.label_text_font = FONT
lg.label_text_font_size = "11px"
lg.border_line_color = "#cccccc"
lg.border_line_width = 1
lg.background_fill_alpha = 0.8

open("out.html", "w").write(file_html(p, INLINE))
